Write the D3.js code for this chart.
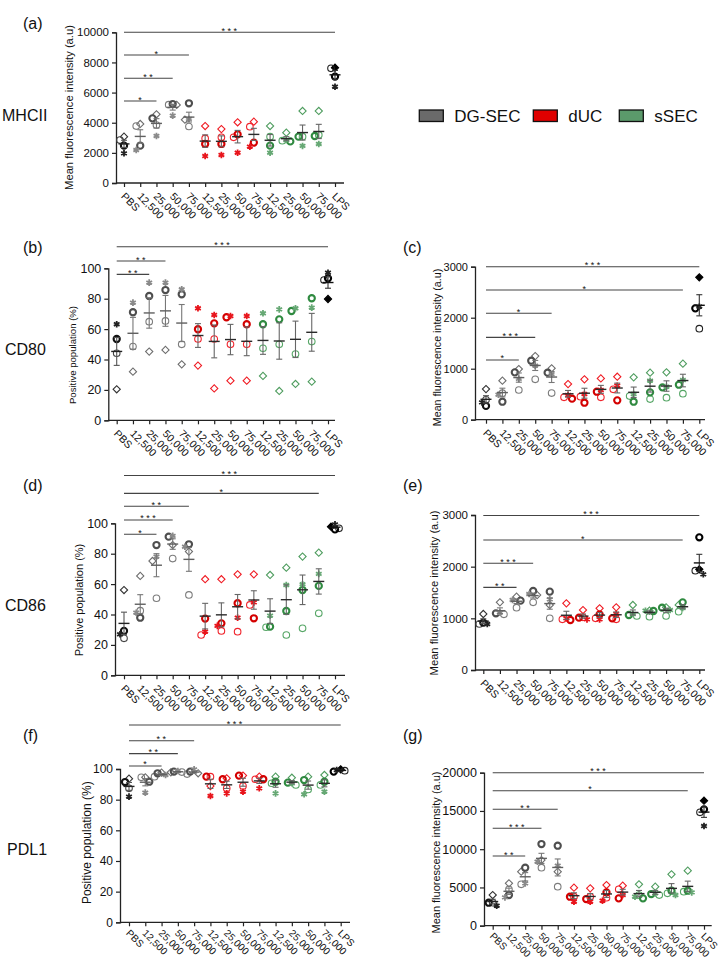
<!DOCTYPE html>
<html><head><meta charset="utf-8">
<script src="https://cdn.jsdelivr.net/npm/d3@7"></script>
<style>
body{margin:0;background:#fff}
svg{display:block}
text{font-family:"Liberation Sans",Arial,Helvetica,sans-serif;fill:#111}
</style>
</head><body>
<svg id="chart" width="720" height="961"></svg>
<script>
// ---------- DATA ----------
const categories = ["PBS","12,500","25,000","50,000","75,000","12,500","25,000","50,000","75,000","12,500","25,000","50,000","75,000","LPS"];
const groupOfCategory = ["PBS","DG-SEC","DG-SEC","DG-SEC","DG-SEC","dUC","dUC","dUC","dUC","sSEC","sSEC","sSEC","sSEC","LPS"];
const seriesNames = ["DG-SEC","dUC","sSEC"];
const replicateShapes = ["diamond","circleOpen","circleBold","asterisk"];

// (a) MHCII – mean fluorescence intensity
const mhciiMfiDiamond = [3075,3916,4560,5180,4200,3780,3580,4030,4070,3780,3340,4780,4780,7650];
const mhciiMfiOpen    = [2850,3780,3850,5200,3750,2960,3030,3030,3740,3075,2810,3075,3190,7610];
const mhciiMfiBold    = [2480,2480,4290,5240,5290,2590,2590,3230,2680,2480,2760,3075,3120,7060];
const mhciiMfiStar    = [1970,2190,3120,4470,4250,1790,1860,2010,2410,2010,2850,2460,2590,6390];
const mhciiMfiSig = [[0,13,10000,"***"],[0,4,8490,"*"],[0,3,6950,"**"],[0,2,5440,"*"]];

// (b) CD80 – positive population (%)
const cd80PctDiamond = [20.4,32,45.2,46.3,36.8,36,21,26.1,26.1,29.2,19.3,23.9,25.4,79.8];
const cd80PctOpen    = [44.1,48.5,64.9,65.4,50,53.5,53.5,50,50,47.4,50,43.6,51.8,92.3];
const cd80PctBold    = [53.5,71.1,81.8,85.7,82.9,59.9,63.8,67.8,63.2,63.2,66.4,71.9,80.3,93.4];
const cd80PctStar    = [63.2,77.4,90.6,90.6,86.2,73.7,69.3,68.6,68.6,70.4,73,73.7,74.1,97.1];
const cd80PctSig = [[0,13,114.2,"***"],[0,3,104.8,"**"],[0,2,96,"**"]];

// (c) CD80 – mean fluorescence intensity
const cd80MfiDiamond = [600,765,993,1248,1007,699,791,810,843,830,922,928,1098,2791];
const cd80MfiOpen    = [390,520,582,791,523,438,451,438,595,464,405,431,510,1784];
const cd80MfiBold    = [270,353,928,1157,922,412,333,549,379,353,536,634,686,2183];
const cd80MfiStar    = [340,490,800,1059,895,484,503,582,667,503,765,647,778,2216];
const cd80MfiSig = [[0,13,3000,"***"],[0,12,2543,"*"],[0,4,2086,"*"],[0,3,1615,"***"],[0,2,1171,"*"]];

// (d) CD86 – positive population (%)
const cd86PctDiamond = [56.1,65.4,75.2,85.7,81.4,63.2,63.2,66.4,66.4,66,70.8,78.1,80.7,97.8];
const cd86PctOpen    = [24.3,42.5,50.7,76.8,52.9,26.5,29.2,28.7,46.3,31.6,26.5,30.9,40.8,96.7];
const cd86PctBold    = [29.2,37.9,85.7,91.2,86.2,37.3,34.2,47.4,37.5,32,42.3,56.1,58.8,96];
const cd86PctStar    = [27,41.2,78.1,91.7,84.6,28.7,32.5,37.9,48,39.3,59.4,59.9,66.7,99.3];
const cd86PctSig = [[0,13,131.4,"***"],[0,12,119.7,"*"],[0,4,111.2,"**"],[0,3,102.2,"***"],[0,2,92.8,"*"]];

// (e) CD86 – mean fluorescence intensity
const cd86MfiDiamond = [1084,1310,1419,1450,1258,1290,1161,1194,1213,1258,1148,1213,1260,1948];
const cd86MfiOpen    = [890,1077,1206,1310,1000,980,1019,1000,980,1045,1032,1045,1129,1923];
const cd86MfiBold    = [916,1097,1342,1529,1516,968,1013,1077,1000,1065,1142,1206,1310,2568];
const cd86MfiStar    = [890,1110,1355,1471,1368,1000,980,980,1084,1084,1148,1161,1200,1852];
const cd86MfiSig = [[0,13,2990,"***"],[0,12,2516,"*"],[0,3,2065,"***"],[0,2,1600,"**"]];

// (f) PDL1 – positive population (%)
const pdl1PctDiamond = [93.7,94.6,97.6,97.8,97.2,88.9,93.9,95.7,95,95,94.3,95,96.1,99.8];
const pdl1PctOpen    = [87.4,94.6,95,98,96.7,95,87.4,88.9,93.3,90.7,89.6,86.7,89.6,98.9];
const pdl1PctBold    = [91.5,91.7,97.2,98.3,98.3,95,93.3,95.7,93.3,91.7,91.1,92.8,91.7,98.3];
const pdl1PctStar    = [82,84.6,96.1,98.7,99.8,82.4,84.1,85.2,87.4,84.1,90.7,83.5,85.2,99.3];
const pdl1PctSig = [[0,13,128.7,"***"],[0,4,118.4,"**"],[0,3,110,"**"],[0,2,102,"*"]];

// (g) PDL1 – mean fluorescence intensity
const pdl1MfiDiamond = [4009,5534,7059,8584,7059,4967,4880,5316,5229,5403,5098,6710,7190,16340];
const pdl1MfiOpen    = [3007,4750,5403,7582,5098,3791,3791,3660,4750,4009,4009,4227,4444,14815];
const pdl1MfiBold    = [3007,4009,7582,10675,10457,3791,3486,4357,3573,3573,4139,4575,4575,15207];
const pdl1MfiStar    = [2614,3704,5534,8366,7843,3137,3137,3268,4009,3791,4227,4009,4357,13028];
const pdl1MfiSig = [[0,13,20000,"***"],[0,12,17647,"*"],[0,4,15216,"**"],[0,3,12732,"***"],[0,2,9111,"**"]];

const rowLabels = ["MHCII","CD80","CD86","PDL1"];
const yLabelMfi = "Mean fluorescence intensity (a.u)";
const yLabelPct = "Positive population (%)";

// ---------- STYLE ----------
const legendFill = {"DG-SEC":"#6a6a6a","dUC":"#e00000","sSEC":"#5b9a6b"};
const markerColor = {
  "PBS":   {diamond:"#333",circleOpen:"#444",circleBold:"#111",asterisk:"#222"},
  "DG-SEC":{diamond:"#6e6e6e",circleOpen:"#7c7c7c",circleBold:"#4e4e4e",asterisk:"#8a8a8a"},
  "dUC":   {diamond:"#f01c24",circleOpen:"#f0242c",circleBold:"#d40000",asterisk:"#e8141b"},
  "sSEC":  {diamond:"#4f9d5f",circleOpen:"#56a666",circleBold:"#2f8a40",asterisk:"#66a874"},
  "LPS":   {diamond:"#000",circleOpen:"#222",circleBold:"#000",asterisk:"#222"}
};
const meanColor = {"PBS":"#222","DG-SEC":"#606060","dUC":"#2a2a2a","sSEC":"#2a2a2a","LPS":"#111"};
const errColor  = {"PBS":"#555","DG-SEC":"#777","dUC":"#666","sSEC":"#666","LPS":"#333"};

const panels = [
  {letter:"(a)",lx:23,ly:29, ax:116,x0:124,x1:335,xEnd:344,yTop:32.3,yBot:183,max:10000,step:2000,tickFs:11.5,labFs:11.2,labX:73,labY:107.5,ylab:yLabelMfi,xFs:10.5,xDy:14,
   reps:[mhciiMfiDiamond,mhciiMfiOpen,mhciiMfiBold,mhciiMfiStar],sig:mhciiMfiSig},
  {letter:"(b)",lx:23,ly:253, ax:108.3,x0:116.7,x1:328,xEnd:335,yTop:268.3,yBot:420.3,max:100,step:20,tickFs:12.5,labFs:9.6,labX:76,labY:355,ylab:yLabelPct,xFs:10.5,xDy:14,
   reps:[cd80PctDiamond,cd80PctOpen,cd80PctBold,cd80PctStar],sig:cd80PctSig},
  {letter:"(c)",lx:403,ly:253, ax:475,x0:486,x1:699.3,xEnd:705,yTop:266.7,yBot:419.7,max:3000,step:1000,tickFs:11,labFs:10.7,labX:441,labY:347.5,ylab:yLabelMfi,xFs:10.5,xDy:14,
   reps:[cd80MfiDiamond,cd80MfiOpen,cd80MfiBold,cd80MfiStar],sig:cd80MfiSig},
  {letter:"(d)",lx:23,ly:491, ax:115,x0:124,x1:335,xEnd:345,yTop:523.3,yBot:675.3,max:100,step:20,tickFs:12.5,labFs:11,labX:83,labY:600,ylab:yLabelPct,xFs:10.5,xDy:14,
   reps:[cd86PctDiamond,cd86PctOpen,cd86PctBold,cd86PctStar],sig:cd86PctSig},
  {letter:"(e)",lx:403,ly:491, ax:475,x0:483.3,x1:699.3,xEnd:705,yTop:515,yBot:670,max:3000,step:1000,tickFs:11.5,labFs:11.2,labX:438,labY:593,ylab:yLabelMfi,xFs:10.5,xDy:14,
   reps:[cd86MfiDiamond,cd86MfiOpen,cd86MfiBold,cd86MfiStar],sig:cd86MfiSig},
  {letter:"(f)",lx:23,ly:741, ax:120,x0:129,x1:340.7,xEnd:350,yTop:769,yBot:922.3,max:100,step:20,tickFs:12,labFs:12,labX:91,labY:842.7,ylab:yLabelPct,xFs:10,xDy:11.5,
   reps:[pdl1PctDiamond,pdl1PctOpen,pdl1PctBold,pdl1PctStar],sig:pdl1PctSig},
  {letter:"(g)",lx:403,ly:741, ax:484,x0:492.7,x1:704,xEnd:711.7,yTop:772.7,yBot:925.7,max:20000,step:5000,tickFs:12.5,labFs:11,labX:440,labY:852.5,ylab:yLabelMfi,xFs:9.8,xDy:11,
   reps:[pdl1MfiDiamond,pdl1MfiOpen,pdl1MfiBold,pdl1MfiStar],sig:pdl1MfiSig}
];
const rowLabelPos = [[2,121],[5,355],[5,611],[7,855]];

// ---------- DRAW ----------
const svg = d3.select("#chart");
svg.append("rect").attr("width",720).attr("height",961).attr("fill","#fff");

const sym = {
  diamond: d3.symbol().type(d3.symbolSquare).size(26)(),
  asterisk: d3.symbol().type(d3.symbolAsterisk).size(30)()
};

panels.forEach(p => {
  const g = svg.append("g");
  const idx = d3.range(categories.length);
  const x = d3.scalePoint().domain(idx).range([p.x0, p.x1]);
  const y = d3.scaleLinear().domain([0, p.max]).range([p.yBot, p.yTop]);

  g.append("text").attr("x",p.lx).attr("y",p.ly).attr("font-size",16).text(p.letter);

  // y axis
  const ya = g.append("g").attr("transform",`translate(${p.ax},0)`)
    .call(d3.axisLeft(y).tickValues(d3.range(0,p.max+1,p.step)).tickFormat(d3.format("d"))
      .tickSizeOuter(0).tickSize(4).tickPadding(3));
  ya.select(".domain").attr("stroke","#222").attr("stroke-width",1.3);
  ya.selectAll(".tick line").attr("stroke","#222").attr("stroke-width",1.2);
  ya.selectAll(".tick text").attr("font-size",p.tickFs).attr("fill","#111")
    .attr("font-family","'Liberation Sans',Arial,sans-serif");

  // x axis
  const xa = g.append("g").attr("transform",`translate(0,${p.yBot})`)
    .call(d3.axisBottom(x).tickFormat(i => categories[i]).tickSizeOuter(0).tickSize(4));
  xa.select(".domain").remove();
  xa.selectAll(".tick line").attr("stroke","#222").attr("stroke-width",1.2);
  xa.selectAll(".tick text").attr("font-size",p.xFs).attr("fill","#111")
    .attr("font-family","'Liberation Sans',Arial,sans-serif")
    .attr("text-anchor","start").attr("dy",null).attr("y",null)
    .attr("transform",`translate(-4,${p.xDy}) rotate(45)`);
  g.append("line").attr("x1",p.ax).attr("x2",p.xEnd).attr("y1",p.yBot).attr("y2",p.yBot)
    .attr("stroke","#222").attr("stroke-width",1.3);

  // y label
  g.append("text").attr("transform",`translate(${p.labX},${p.labY}) rotate(-90)`)
    .attr("text-anchor","middle").attr("font-size",p.labFs).text(p.ylab);

  // significance bars
  p.sig.forEach(([a,b,lvl,lab]) => {
    const yy = y(lvl);
    g.append("line").attr("x1",x(a)).attr("x2",x(b)).attr("y1",yy).attr("y2",yy)
      .attr("stroke","#444").attr("stroke-width",1.1);
    g.append("text").attr("x",(x(a)+x(b))/2 + 1).attr("y",yy+1.5).attr("text-anchor","middle")
      .attr("font-size",9).attr("letter-spacing","2.5px").attr("fill","#111").text(lab);
  });

  // per group: mean, SEM, points
  idx.forEach(i => {
    const grp = groupOfCategory[i];
    const vals = p.reps.map(r => r[i]);
    const m = d3.mean(vals);
    const sem = d3.deviation(vals) / Math.sqrt(vals.length);
    const cx = x(i);
    const pts = vals.map((v,k) => ({v, shape:replicateShapes[k], py:y(v)}));
    const placed = [];
    [...pts].sort((a,b)=>a.py-b.py).forEach(pt => {
      for (const off of [0,-4,4,-7,7]) {
        if (!placed.some(q => Math.abs(q.py-pt.py) < 5 && Math.abs(q.off-off) < 3)) { pt.off = off; break; }
      }
      if (pt.off === undefined) pt.off = 0;
      placed.push(pt);
    });
    const pg = g.append("g");
    pts.forEach(pt => {
      const col = markerColor[grp][pt.shape];
      const px = cx + pt.off;
      if (pt.shape === "diamond") {
        pg.append("path").attr("d",sym.diamond)
          .attr("transform",`translate(${px},${pt.py}) rotate(45)`)
          .attr("fill", grp === "LPS" ? col : "none").attr("stroke",col).attr("stroke-width",1.1);
      } else if (pt.shape === "circleOpen") {
        pg.append("circle").attr("cx",px).attr("cy",pt.py).attr("r",3.3)
          .attr("fill","none").attr("stroke",col).attr("stroke-width",1.1);
      } else if (pt.shape === "circleBold") {
        pg.append("circle").attr("cx",px).attr("cy",pt.py).attr("r",3.1)
          .attr("fill","none").attr("stroke",col).attr("stroke-width",2.1);
      } else {
        pg.append("path").attr("d",sym.asterisk)
          .attr("transform",`translate(${px},${pt.py})`)
          .attr("fill","none").attr("stroke",col).attr("stroke-width",1.8);
      }
    });
    const ec = errColor[grp];
    g.append("line").attr("x1",cx).attr("x2",cx).attr("y1",y(m-sem)).attr("y2",y(m+sem))
      .attr("stroke",ec).attr("stroke-width",1.1);
    [m-sem, m+sem].forEach(v => g.append("line").attr("x1",cx-3).attr("x2",cx+3)
      .attr("y1",y(v)).attr("y2",y(v)).attr("stroke",ec).attr("stroke-width",1.1));
    g.append("line").attr("x1",cx-5.5).attr("x2",cx+5.5).attr("y1",y(m)).attr("y2",y(m))
      .attr("stroke",meanColor[grp]).attr("stroke-width",1.4);
  });
});

// row labels
rowLabels.forEach((t,k) => {
  svg.append("text").attr("x",rowLabelPos[k][0]).attr("y",rowLabelPos[k][1]).attr("font-size",16).text(t);
});

// legend
const legX = [419.3, 533.3, 619.3];
const legend = svg.append("g");
seriesNames.forEach((s,k) => {
  legend.append("rect").attr("x",legX[k]).attr("y",110).attr("width",24).attr("height",11.5)
    .attr("fill",legendFill[s]).attr("stroke","#111").attr("stroke-width",1.3);
  legend.append("text").attr("x",legX[k]+35).attr("y",121.5).attr("font-size",17).text(s);
});
</script>
</body></html>
